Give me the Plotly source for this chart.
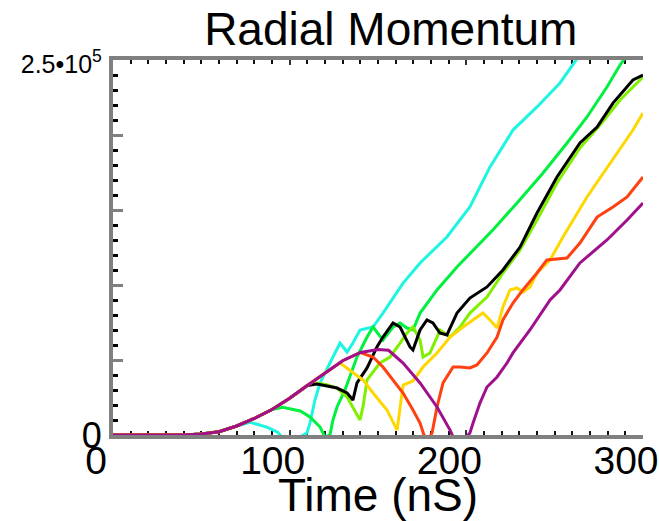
import plotly.graph_objects as go

# shared early rise (all runs coincide)
t_env = [0, 40, 50, 60, 70, 80, 90, 100, 110, 120, 130, 140, 150, 156]
v_env = [0, 0, 700, 2200, 6000, 11000, 17000, 24500, 33000, 41500, 49500, 55000, 57000, 56500]

t_cyan = [77.5, 87, 93, 97, 103, 109.8, 111.5, 114.3, 117.2, 124.5, 128.5, 132.5, 135.8, 139.8, 147.2,
          152.8, 164.2, 173.8, 189, 202, 213.4, 226.4, 240, 253, 262.6, 280]
v_cyan = [8500, 5300, 2000, -3000, -3000, 1300, 8000, 23300, 34700, 52000, 61300, 55300, 61300, 70000, 72000,
          81300, 101300, 114700, 132000, 152000, 178700, 203300, 218700, 234700, 251300, 280000]

t_green = [96, 106, 111.5, 117.2, 120, 122.8, 124.5, 126.8, 131.3, 138.1, 143.8, 147.2, 152.8, 158.5, 162.5,
           166.4, 169.8, 173.8, 183.4, 194.7, 203.8, 215, 228.7, 243.4, 257, 268.3, 279.6, 287, 300]
v_green = [18500, 16000, 12000, 5300, -1300, 0, 10000, 18700, 30000, 52000, 65300, 72000, 63300, 72000, 74700,
           71300, 70000, 81300, 96700, 112000, 123300, 136700, 154700, 174700, 194700, 212000, 232000, 246700, 268000]

t_lime = [115.5, 121, 126.8, 132.5, 139.8, 141.5, 143.8, 151.1, 156.8, 162.5, 166.4, 169.8, 173.8, 175.5, 179.4,
          183.4, 185.1, 190.8, 196.4, 202, 211.7, 220.7, 230.4, 240, 251.3, 264.3, 275.7, 287, 300]
v_lime = [34700, 33500, 31300, 25300, 10000, 18700, 36700, 48000, 52000, 61300, 68000, 72000, 63300, 52000, 54700,
          65300, 70000, 65300, 72000, 81300, 92000, 108000, 123300, 143300, 168000, 191300, 206700, 223300, 238700]

t_black = [115.5, 126.8, 132.5, 135.8, 138.1, 143.8, 149.4, 152.8, 158.5, 162.5, 168.1, 169.8, 173.8, 177.7, 181.1,
           185, 189, 194.7, 202, 211.7, 220.7, 230.4, 240, 251.3, 264.3, 274, 283, 294.3, 300]
v_black = [34000, 31300, 28000, 23300, 34700, 44700, 58700, 65300, 74700, 72000, 58700, 56700, 70000, 76700, 74700,
           68000, 66700, 81300, 91300, 98700, 110000, 125300, 148000, 172000, 194700, 205300, 221300, 236700, 240000]

t_yellow = [128.5, 134.2, 141.5, 147.2, 155.1, 160.8, 162.5, 164.2, 169.8, 175.5, 183.4, 190.8, 198.1, 203.8, 209.4,
            213.4, 217.4, 220.7, 224.7, 228.7, 232.1, 236, 240, 247.4, 254.7, 268.3, 281.3, 294.3, 300]
v_yellow = [48000, 43300, 36700, 28000, 16700, 3300, 18700, 33300, 36000, 45300, 54700, 65300, 72000, 76700, 81300,
            76700, 71300, 85300, 96700, 98000, 95300, 98700, 108000, 116700, 132000, 158700, 181300, 203300, 214700]

t_orange = [147.2, 152.8, 158.5, 164.2, 169.8, 173.8, 176, 178.3, 180.6, 183.4, 186.8, 192.5, 196.4, 202, 206,
            211.7, 217.4, 220.7, 226.4, 232, 240, 245.6, 257, 264.3, 274, 283, 291, 300]
v_orange = [52000, 45300, 36700, 28000, 16700, 8000, 0, -3000, 1300, 18700, 34700, 45300, 45300, 44700, 46700,
            54700, 65300, 76700, 88000, 96700, 108000, 116700, 118000, 128000, 145300, 152000, 158700, 172000]

t_purple = [164.2, 173.8, 183.4, 190.8, 192.5, 197, 202, 203.8, 207.7, 211.7, 217.4, 223, 226.4, 236, 247.4,
            253, 264.3, 279.6, 291, 300]
v_purple = [48000, 34700, 18700, 3300, -1300, -5000, 1300, 8000, 21300, 32000, 38700, 48000, 54700, 70000, 90000,
            96700, 114700, 130000, 143300, 154700]

y_tickvals = [0, 50000, 100000, 150000, 200000, 250000]
y_ticktext = ["0", "", "", "", "", '<span style="font-size:25px">2.5\u202210<sup>5</sup></span>']
x_tickvals = [0, 100, 200, 300]


def branch(t_cut, ts, vs):
    tt = [t for t in t_env if t <= t_cut] + ts
    vv = [v for t, v in zip(t_env, v_env) if t <= t_cut] + vs
    return tt, vv


series = [
    ("cyan", 70, t_cyan, v_cyan, "#1EF5E0"),
    ("green", 90, t_green, v_green, "#00F040"),
    ("lime", 110, t_lime, v_lime, "#80F000"),
    ("black", 110, t_black, v_black, "#000000"),
    ("yellow", 120, t_yellow, v_yellow, "#FFD700"),
    ("orange", 140, t_orange, v_orange, "#FF4010"),
]

fig = go.Figure()
for name, cut, ts, vs, col in series:
    tt, vv = branch(cut, ts, vs)
    fig.add_trace(go.Scatter(x=tt, y=vv, mode="lines", name=name,
                             line=dict(color=col, width=3)))
fig.add_trace(go.Scatter(x=t_env + t_purple, y=v_env + v_purple, mode="lines", name="purple",
                         line=dict(color="#A0108C", width=3)))

font_family = "Liberation Sans, Arial, sans-serif"
fig.update_layout(
    width=659, height=521,
    margin=dict(l=113, r=16, t=60, b=86, autoexpand=False),
    paper_bgcolor="white", plot_bgcolor="white",
    showlegend=False,
    font=dict(family=font_family, color="black"),
    title=dict(text="Radial Momentum", font=dict(size=46, color="black", family=font_family),
               x=0.593, xanchor="center", xref="container",
               y=0.975, yanchor="top", yref="container", automargin=False),
    xaxis=dict(range=[0, 300], tickvals=x_tickvals, ticks="inside", ticklen=5, tickwidth=2,
               tickcolor="#333333", showline=True, linecolor="#808080", linewidth=4,
               mirror="ticks", showgrid=False, zeroline=False, layer="below traces",
               automargin=False, ticklabelshift=-17, ticklabelstandoff=-12,
               ticklabeloverflow="allow",
               tickfont=dict(size=39, color="black"),
               minor=dict(dtick=10, ticks="inside", ticklen=4, tickwidth=2, tickcolor="#111111"),
               title=dict(text="Time (nS)", font=dict(size=46, color="black"), standoff=5)),
    yaxis=dict(range=[0, 250000], tickvals=y_tickvals, ticktext=y_ticktext, ticks="inside",
               ticklen=10, tickwidth=3, tickcolor="#808080", showline=True, linecolor="#808080",
               linewidth=4, mirror=False, showgrid=False, zeroline=False, layer="below traces",
               automargin=False, ticklabeloverflow="allow",
               tickfont=dict(size=36, color="black"),
               minor=dict(dtick=10000, ticks="inside", ticklen=5, tickwidth=3, tickcolor="#000000")),
    yaxis2=dict(range=[0, 250000], overlaying="y", side="right", anchor="x", tickvals=y_tickvals,
                ticks="inside", ticklen=10, tickwidth=3, tickcolor="#808080", showline=True,
                linecolor="#000000", linewidth=3, showgrid=False, zeroline=False, showticklabels=False,
                automargin=False,
                minor=dict(dtick=10000, ticks="inside", ticklen=5, tickwidth=3, tickcolor="#000000")),
)

fig.write_html("out.html")
